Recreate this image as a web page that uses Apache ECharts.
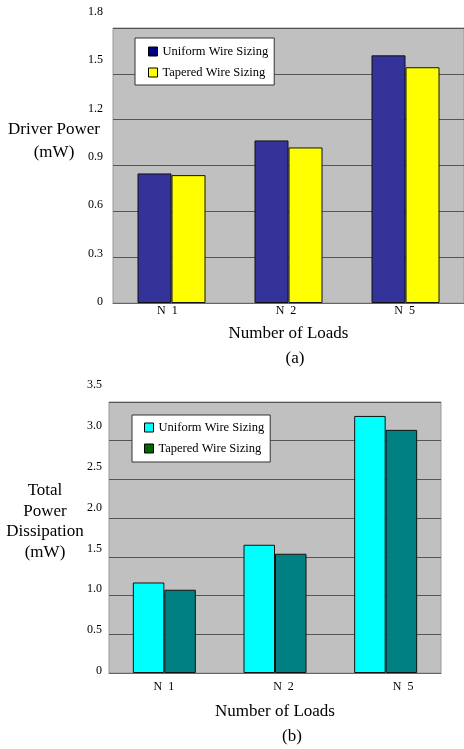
<!DOCTYPE html>
<html>
<head>
<meta charset="utf-8">
<script src="https://cdn.jsdelivr.net/npm/echarts@6/dist/echarts.min.js"></script>
<style>
  html, body { margin: 0; padding: 0; background: #fff; }
  #chartA { width: 464px; height: 370px; }
  #chartB { width: 464px; height: 379px; }
</style>
</head>
<body>
<div id="chartA"></div>
<div id="chartB"></div>
<script>
// data
const categories = ['N 1', 'N 2', 'N 5']
const tickLabels = ['N\u00a0\u00a01', 'N\u00a0\u00a02', 'N\u00a0\u00a05']
const seriesNames = ['Uniform Wire Sizing', 'Tapered Wire Sizing']

// (a) driver power, mW
const driverUniform = [0.848, 1.064, 1.621]
const driverTapered = [0.837, 1.018, 1.543]
const driverTicks = ['0', '0.3', '0.6', '0.9', '1.2', '1.5', '1.8']

// (b) total power dissipation, mW
const totalUniform = [1.169, 1.656, 3.32]
const totalTapered = [1.075, 1.54, 3.14]
const totalTicks = ['0', '0.5', '1.0', '1.5', '2.0', '2.5', '3.0', '3.5']

const serif = 'Liberation Serif, Times New Roman, serif'

// builds one panel: plot grid + a label-only grid (labels in the original sit off the gridlines)
const buildOption = (cfg) => {
  return {
    animation: false,
    textStyle: { fontFamily: serif, color: '#000' },
    grid: [
      {
        left: cfg.plot.left, top: cfg.plot.top, width: cfg.plot.width, height: cfg.plot.height,
        show: true, backgroundColor: '#C0C0C0', borderColor: '#999', borderWidth: 1
      },
      {
        left: cfg.labels.left, top: cfg.labels.top, width: cfg.labels.width, height: cfg.labels.height
      }
    ],
    legend: {
      orient: 'vertical',
      left: cfg.legend.left,
      top: cfg.legend.top,
      padding: cfg.legend.padding,
      itemGap: 8,
      itemWidth: 9,
      itemHeight: 9,
      backgroundColor: '#fff',
      borderColor: '#333',
      borderWidth: 1,
      borderRadius: 0,
      textStyle: { fontFamily: serif, fontSize: 12.5, color: '#000' },
      data: seriesNames.map((name, i) => ({
        name,
        icon: 'rect',
        itemStyle: { color: cfg.legendColors[i], borderColor: '#000', borderWidth: 1 }
      }))
    },
    xAxis: [
      {
        gridIndex: 0,
        type: 'category',
        data: categories,
        axisTick: { show: false },
        axisLabel: { show: false },
        axisLine: { lineStyle: { color: '#666' } },
        name: 'Number of Loads',
        nameLocation: 'middle',
        nameGap: cfg.nameGap,
        nameTextStyle: { fontFamily: serif, fontSize: 17, color: '#000' }
      },
      {
        gridIndex: 1,
        type: 'category',
        data: tickLabels,
        axisLine: { show: false },
        axisTick: { show: false },
        axisLabel: { margin: cfg.xLabelMargin, fontFamily: serif, fontSize: 12, color: '#000' }
      }
    ],
    yAxis: [
      {
        gridIndex: 0,
        type: 'value',
        min: 0,
        max: cfg.max,
        interval: cfg.interval,
        axisLabel: { show: false },
        axisLine: { show: false },
        axisTick: { show: false },
        splitLine: { lineStyle: { color: '#555', width: 1 } }
      },
      {
        gridIndex: 1,
        type: 'category',
        data: cfg.ticks,
        boundaryGap: false,
        axisLine: { show: false },
        axisTick: { show: false },
        splitLine: { show: false },
        axisLabel: { margin: cfg.yLabelMargin, fontFamily: serif, fontSize: 12, color: '#000' }
      }
    ],
    graphic: [
      {
        type: 'text',
        x: cfg.yTitle.x, y: cfg.yTitle.y,
        style: {
          text: cfg.yTitle.text,
          fontFamily: serif, fontSize: 17, fill: '#000',
          align: 'center', verticalAlign: 'top', lineHeight: cfg.yTitle.lineHeight
        }
      },
      {
        type: 'text',
        x: cfg.caption.x, y: cfg.caption.y,
        style: {
          text: cfg.caption.text, fontFamily: serif, fontSize: 17, fill: '#000',
          align: 'center', verticalAlign: 'middle'
        }
      }
    ],
    series: [
      {
        name: seriesNames[0],
        type: 'bar',
        xAxisIndex: 0, yAxisIndex: 0,
        data: cfg.uniform,
        barWidth: cfg.barWidth,
        barGap: '0%',
        itemStyle: { color: cfg.barColors[0], borderColor: '#111', borderWidth: 1 }
      },
      {
        name: seriesNames[1],
        type: 'bar',
        xAxisIndex: 0, yAxisIndex: 0,
        data: cfg.tapered,
        barWidth: cfg.barWidth,
        barGap: '0%',
        itemStyle: { color: cfg.barColors[1], borderColor: '#111', borderWidth: 1 }
      }
    ]
  }
}

const chartA = echarts.init(document.getElementById('chartA'))
chartA.setOption(buildOption({
  plot: { left: 113, top: 28, width: 354, height: 275 },
  labels: { left: 108, top: 12, width: 358, height: 290 },
  legend: { left: 135, top: 38, padding: [7, 6, 6, 13] },
  legendColors: ['#000080', '#FFFF00'],
  barColors: ['#333399', '#FFFF00'],
  max: 1.8,
  interval: 0.3,
  ticks: driverTicks,
  uniform: driverUniform,
  tapered: driverTapered,
  barWidth: 34,
  nameGap: 22,
  xLabelMargin: 3,
  yLabelMargin: 5,
  yTitle: { x: 54, y: 118.5, text: 'Driver Power\n(mW)', lineHeight: 23 },
  caption: { x: 295, y: 359, text: '(a)' }
}))

const chartB = echarts.init(document.getElementById('chartB'))
chartB.setOption(buildOption({
  plot: { left: 109, top: 32, width: 332, height: 271 },
  labels: { left: 104, top: 15, width: 359, height: 286 },
  legend: { left: 132, top: 45, padding: [6, 6, 7, 12] },
  legendColors: ['#00FFFF', '#006600'],
  barColors: ['#00FFFF', '#008080'],
  max: 3.5,
  interval: 0.5,
  ticks: totalTicks,
  uniform: totalUniform,
  tapered: totalTapered,
  barWidth: 31.5,
  nameGap: 30,
  xLabelMargin: 10,
  yLabelMargin: 2,
  yTitle: { x: 45, y: 110.5, text: 'Total\nPower\nDissipation\n(mW)', lineHeight: 20.5 },
  caption: { x: 292, y: 367, text: '(b)' }
}))
</script>
</body>
</html>
